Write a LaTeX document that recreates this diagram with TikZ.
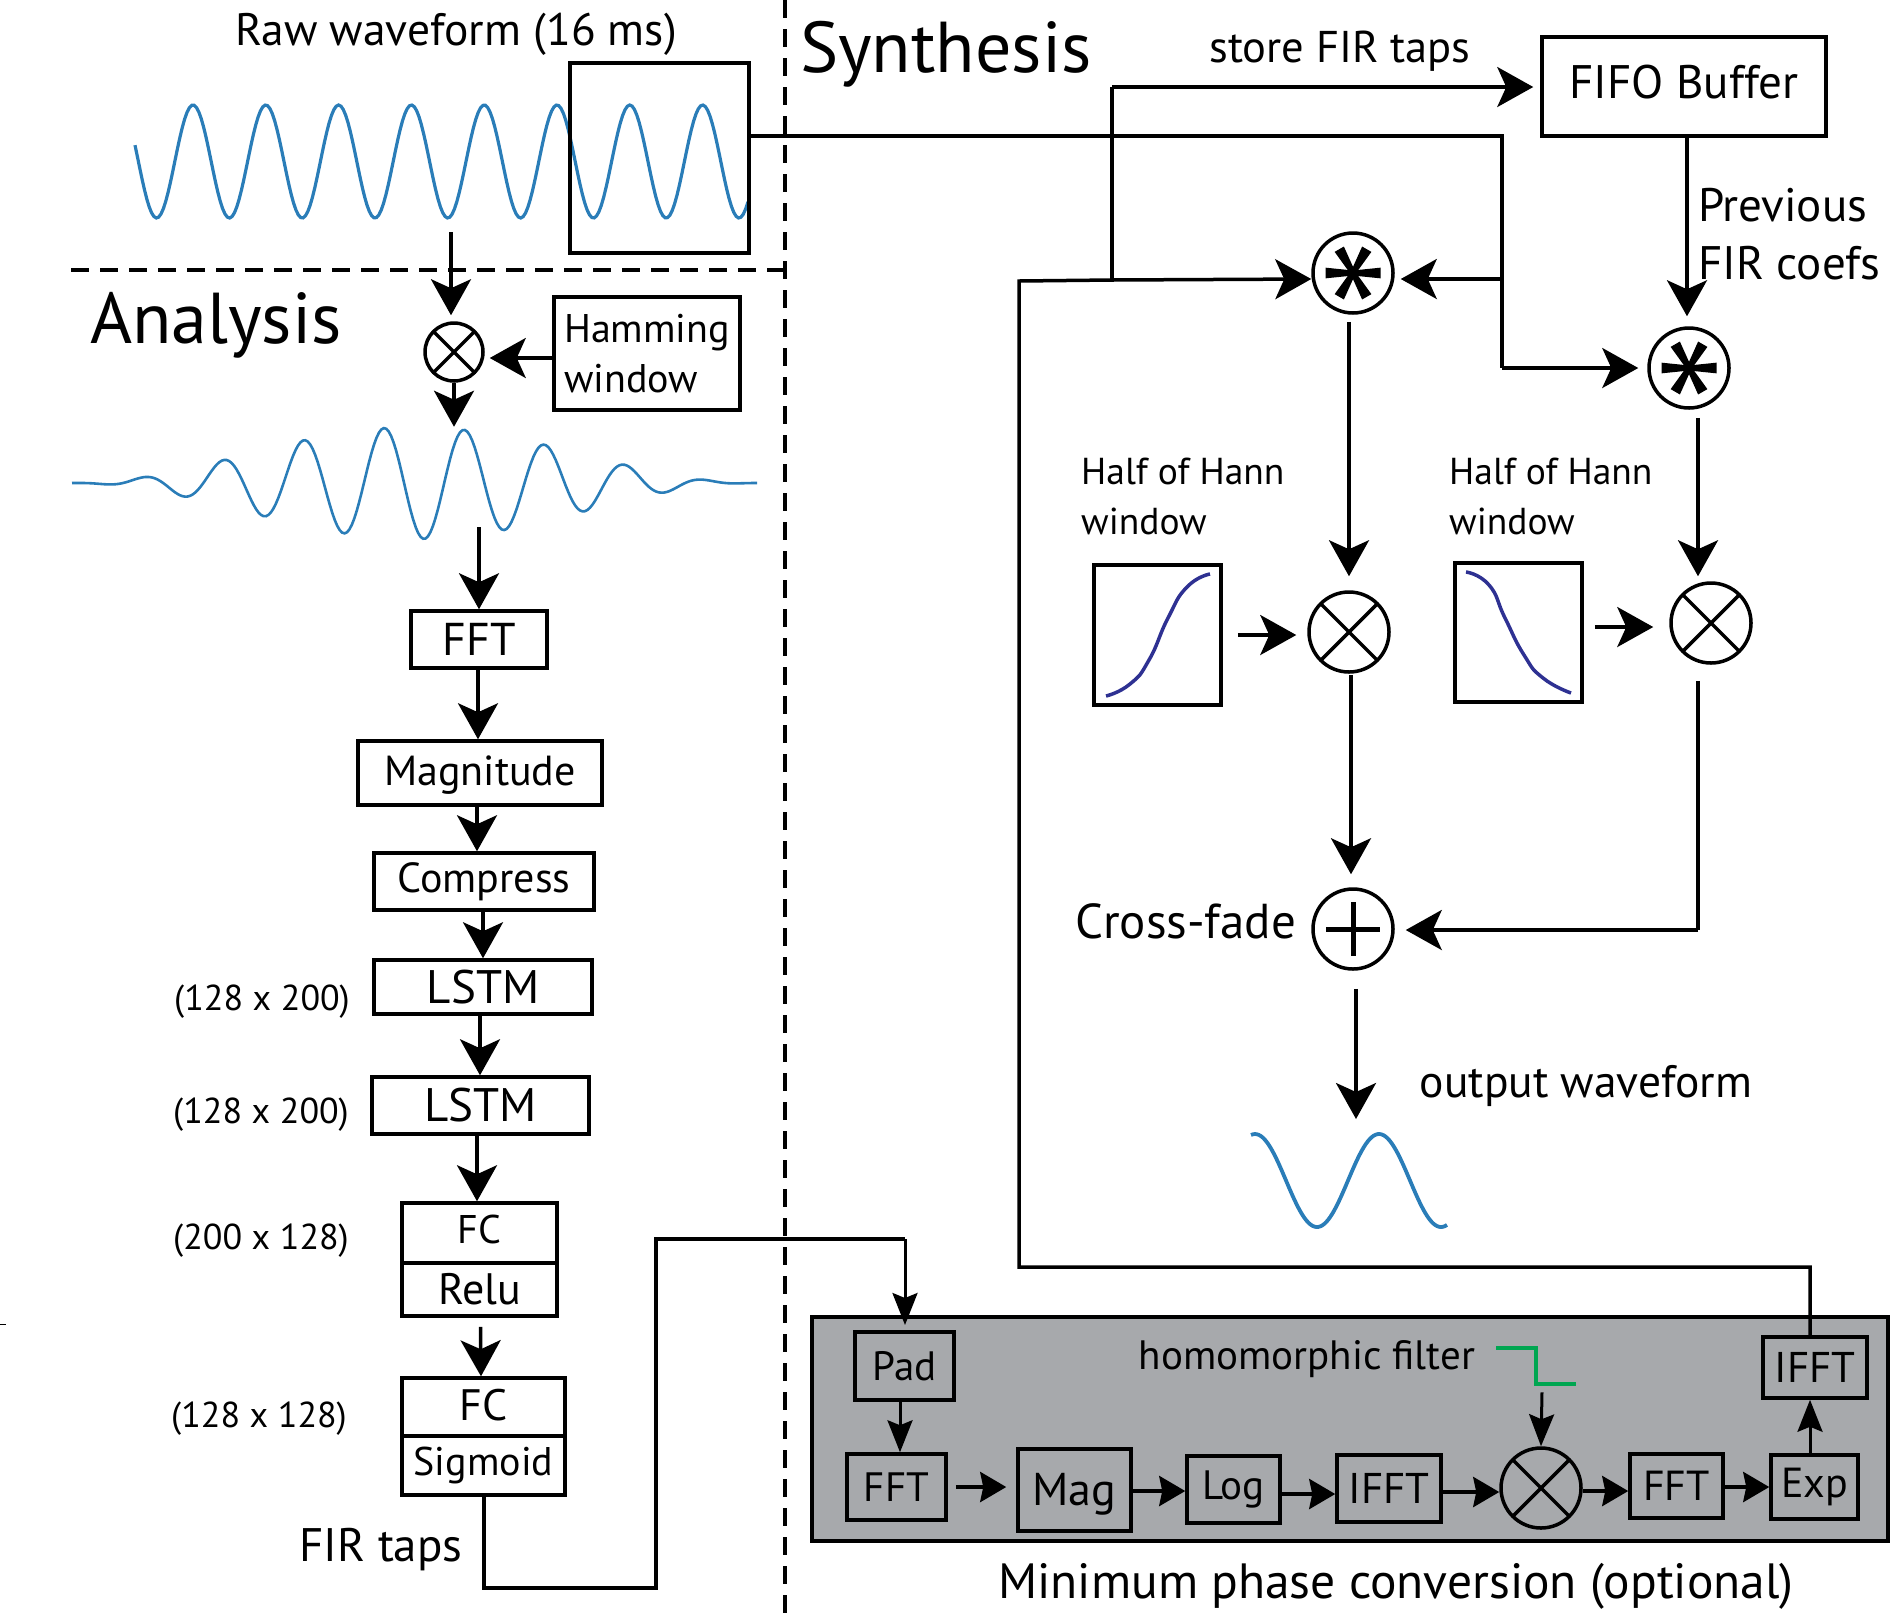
\documentclass[tikz,border=0pt]{standalone}
\usepackage{fontspec}
\setmainfont{PT Sans}
\usepackage{tikz}
\usetikzlibrary{arrows.meta,positioning,calc}
\newcommand{\fsz}[2]{\fontsize{#1}{#2}\selectfont}
\definecolor{wave}{HTML}{2A7DB8}
\definecolor{hann}{HTML}{2E3192}
\definecolor{stepc}{HTML}{00A651}
\definecolor{panelgray}{HTML}{A7A9AC}

\begin{document}
\begin{tikzpicture}[
  x=1pt, y=-1pt,
  every node/.style={inner sep=0pt},
  box/.style={draw=black, line width=3.5pt, inner sep=0pt, align=center, font=\fsz{44}{50}},
  win/.style={draw=black, line width=3.5pt},
  mult/.style={circle, draw=black, line width=3.5pt, minimum size=#1, path picture={
      \draw[line width=3.5pt] (path picture bounding box.north west) -- (path picture bounding box.south east);
      \draw[line width=3.5pt] (path picture bounding box.north east) -- (path picture bounding box.south west);}},
  addn/.style={circle, draw=black, line width=3.5pt, minimum size=80pt, path picture={
      \draw[line width=5pt] ($(path picture bounding box.center)+(-27,0)$) -- ($(path picture bounding box.center)+(27,0)$);
      \draw[line width=5pt] ($(path picture bounding box.center)+(0,-27)$) -- ($(path picture bounding box.center)+(0,27)$);}},
  conv/.style={circle, draw=black, line width=3.5pt, minimum size=80pt, path picture={
      \fill (path picture bounding box.center) circle[radius=6pt];
      \foreach \ang in {0,60,120,180,240,300}
        \fill[shift={(path picture bounding box.center)}] (\ang-45:4pt) -- (\ang-11:28pt) -- (\ang+11:28pt) -- (\ang+45:4pt) -- cycle;}},
  ar/.style={-{Stealth[length=36pt, width=40pt, inset=9pt]}, line width=3.5pt},
  arsm/.style={-{Stealth[length=32pt, width=25pt, inset=5pt]}, line width=3pt},
  arrow/.style={-{Stealth[length=26pt, width=30pt, inset=3pt]}, line width=4pt},
  ln/.style={line width=3.5pt},
  wv/.style={wave, line width=3.2pt},
  lab/.style={font=\fsz{44}{50}, align=left},
  dim/.style={font=\fsz{36}{44}},
  title/.style={font=\fsz{72}{80}},
  sep/.style={line width=3.5pt, dash pattern=on 18pt off 11pt},
]
\useasboundingbox (0,0) rectangle (1892,1618);

% =============================================================== section lines
\coordinate (vtop) at (785,0);
\coordinate (vbot) at (785,1618);
\coordinate (hleft) at (71,270);
\draw[sep] (vtop) -- (vbot);
\draw[sep] (hleft) -- (hleft -| vtop);
\coordinate (tick) at (0,1324);
\draw[line width=1pt] (tick) -- ++(6,0);

% =============================================================== waveforms
\draw[wv, domain=135:748, samples=260] plot (\x, {161.5-56.5*cos((\x-193)/72.8*360)});
\draw[wv, line width=2.6pt, domain=72:757, samples=280]
  plot (\x, {483-56*cos((\x-414.5)/342.5*90)^2*cos((\x-384)/80.3*360)});
\draw[wv, line width=3.8pt, domain=1251:1447, samples=100] plot (\x, {1180.5-46.5*cos((\x-1255)/124*360)});

% =============================================================== analysis
\node[win, minimum width=179pt, minimum height=190pt] (rawbox) at (659.5,158) {};
\node[font=\fsz{45.5}{50}] (rawlab) at (456,34) {Raw waveform (16 ms)};
\node[title, anchor=west] (analysis) at (90,325) {Analysis};

\node[mult=58pt] (hmult) at (454,352) {};
\node[box, font=\fsz{40}{50}, minimum width=186pt, minimum height=113pt, align=left] (hamm) at (647,353.5)
  {Hamming\\window};

\node[box, font=\fsz{46}{50}, minimum width=136pt, minimum height=57pt] (fft) at (479,639.5) {FFT};
\node[box, font=\fsz{42}{50}, minimum width=244pt, minimum height=64pt, text depth=4pt] (mag) at (480,773) {Magnitude};
\node[box, font=\fsz{42}{50}, minimum width=220pt, minimum height=57pt] (comp) at (484,881.5) {Compress};
\node[box, font=\fsz{47}{50}, minimum width=218pt, minimum height=54pt] (lstma) at (483,987) {LSTM};
\node[box, font=\fsz{47}{50}, minimum width=217pt, minimum height=57pt] (lstmb) at (480.5,1105.5) {LSTM};
\node[box, font=\fsz{40}{50}, minimum width=155pt, minimum height=60pt, text depth=7pt] (fca) at (479.5,1233) {FC};
\node[box, minimum width=155pt, minimum height=53pt] (relu) at (479.5,1289.5) {Relu};
\node[box, font=\fsz{44}{50}, minimum width=163pt, minimum height=58pt, text depth=5pt] (fcb) at (483.5,1407) {FC};
\node[box, font=\fsz{40}{50}, minimum width=163pt, minimum height=59pt] (sigm) at (483.5,1465.5) {Sigmoid};

\node[dim] (dima) at (262,1002) {(128 x 200)};
\node[dim] (dimb) at (261,1115) {(128 x 200)};
\node[dim] (dimc) at (261,1241) {(200 x 128)};
\node[dim] (dimd) at (259,1419) {(128 x 128)};
\node[lab, font=\fsz{47}{50}] (firlab) at (381,1550) {FIR taps};

\coordinate (rawout) at (451,232);
\coordinate (wvout) at (479,527);
\draw[ar] (rawout) -- ($(hmult.north)+(-3,-6)$);
\draw[ar] (hamm.west |- 0,358) -- ($(hmult.east)+(5,6)$);
\draw[ar] (hmult.south) -- ++(0,44);
\draw[ar] (wvout) -- (wvout |- fft.north);

\foreach \a/\b/\x in {fft/mag/478, mag/comp/477, comp/lstma/483, lstma/lstmb/480, lstmb/fca/477}
  \draw[ar] (\x,0 |- \a.south) -- (\x,0 |- \b.north);
\draw[ar] ($(relu.south)+(1,9)$) -- (481,0 |- fcb.north);

% =============================================================== synthesis
\node[title, anchor=west] (synth) at (800,54) {Synthesis};
\node[lab, font=\fsz{44.5}{50}] (storelab) at (1340,51) {store FIR taps};
\node[box, font=\fsz{47}{50}, minimum width=284pt, minimum height=99pt, text depth=9pt] (fifo) at (1684,86.5) {FIFO Buffer};
\node[lab, font=\fsz{47}{50}, anchor=west] (prev) at (1698,234.5) {Previous\\[8pt]FIR coefs};

\node[conv] (conva) at (1353,273) {};
\node[conv] (convb) at (1689,368) {};
\node[mult=80pt] (multa) at (1349,632) {};
\node[mult=80pt] (multb) at (1711,623) {};
\node[addn] (fade) at (1353,929) {};

\node[lab, font=\fsz{37.5}{50}, anchor=west] (hanna) at (1081,496) {Half of Hann\\window};
\node[lab, font=\fsz{37.5}{50}, anchor=west] (hannb) at (1449,496) {Half of Hann\\window};
\node[win, minimum width=127pt, minimum height=140pt] (wina) at (1157.5,635) {};
\node[win, minimum width=127pt, minimum height=139pt] (winb) at (1518.5,632.5) {};
\draw[hann, line width=3.5pt] plot[smooth, tension=0.9] coordinates {(1106,696) (1130,684) (1149,660) (1168,618) (1187,587) (1210,574)};
\draw[hann, line width=3.5pt] plot[smooth, tension=0.9] coordinates {(1466,572) (1489,585) (1505,618) (1524,655) (1543,678) (1571,693)};

\node[lab, font=\fsz{49}{50}] (fadelab) at (1186,921) {Cross-fade};
\node[lab, font=\fsz{45.5}{50}] (outlab) at (1586,1086) {output waveform};

% --- taps into the FIFO and the two convolutions ---
\coordinate (tapup) at (1112,280);
\coordinate (tapin) at (1112,87);
\coordinate (loopa) at (1019,281);
\coordinate (loopb) at (1019,1267);
\coordinate (loopc) at (1810,1267);
\coordinate (mainr) at (1502,136);
\coordinate (mainm) at (1502,279);
\coordinate (mainb) at (1502,368);
\coordinate (fadecorner) at (1698,930);
\coordinate (outwave) at (1356,1119);
\draw[ln] (tapup) -- (tapin);
\draw[ar] (tapin) -- ($(fifo.west |- tapin)+(-7,0)$);
\draw[ln] (rawbox.east |- mainr) -- (mainr) -- (mainb);
\draw[ar] (mainb) -- ($(convb.west)+(-9,0)$);
\draw[ar] (mainm) -- ($(conva.east)+(6,6)$);

\draw[ar] (1687,0 |- fifo.south) -- ($(convb.north)+(-2,-10)$);
\draw[ar] ($(conva.south)+(-4,7)$) -- ($(multa.north)+(0,-14)$);
\draw[ar] ($(convb.south)+(9,8)$) -- ($(multb.north)+(-13,-5)$);
\draw[ar] ($(wina.east)+(15,0)$) -- ($(multa.west)+(-11,3)$);
\draw[ar] ($(winb.east)+(11,-5.5)$) -- ($(multb.west)+(-16,4)$);
\draw[ar] ($(multa.south)+(2,1)$) -- ($(fade.north)+(-2,-13)$);
\draw[ln] ($(multb.south)+(-13,16)$) -- (fadecorner);
\draw[ar] (fadecorner) -- ($(fade.east)+(11,1)$);
\draw[ar] ($(fade.south)+(3,18)$) -- (outwave);

% =============================================================== minimum phase block
\node[draw=black, fill=panelgray, line width=4pt, minimum width=1076pt, minimum height=224pt] (panel) at (1350,1429) {};

\node[box, minimum width=99pt, minimum height=68pt, font=\fsz{41}{50}] (pad) at (904.5,1366) {Pad};
\node[box, minimum width=99pt, minimum height=66pt, font=\fsz{41}{50}, text depth=0pt] (pfft) at (896.5,1487) {FFT};
\node[box, minimum width=113pt, minimum height=82pt, font=\fsz{46}{50}, text depth=1pt] (pmag) at (1074.5,1490) {Mag};
\node[box, minimum width=93pt, minimum height=67pt, font=\fsz{41}{50}] (plog) at (1233.5,1489.5) {Log};
\node[box, minimum width=104pt, minimum height=67pt, font=\fsz{43}{50}] (pifft) at (1389,1488.5) {IFFT};
\node[mult=80pt] (pmult) at (1541,1488) {};
\node[box, minimum width=93pt, minimum height=64pt, font=\fsz{42}{50}] (pffb) at (1676.5,1486) {FFT};
\node[box, minimum width=87pt, minimum height=64pt, font=\fsz{42}{50}] (pexp) at (1814.5,1487) {Exp};
\node[box, minimum width=104pt, minimum height=61pt, font=\fsz{43}{50}] (pout) at (1815,1367.5) {IFFT};

\node[font=\fsz{41}{50}] (homlab) at (1307,1359) {homomorphic filter};
\coordinate (stepa) at (1496,1348);
\coordinate (stepb) at (1536,1348);
\coordinate (stepcc) at (1536,1384);
\coordinate (stepd) at (1576,1384);
\draw[stepc, line width=3.5pt] (stepa) -- (stepb) -- (stepcc) -- (stepd);
\node[font=\fsz{49.5}{50}] (minlab) at (1396,1586) {Minimum phase conversion (optional)};

\draw[arsm] (900,0 |- pad.south) -- (900,0 |- pfft.north);
\draw[arsm] (1810,0 |- pexp.north) -- (1810,0 |- pout.south);
\draw[arsm] ($(pmult.north)+(1,-54)$) -- (pmult.north);
\draw[arrow] ($(pfft.east |- 0,1487)+(8,0)$) -- ($(pmag.west |- 0,1487)+(-10,0)$);
\foreach \a/\b/\y in {pmag/plog/1491, plog/pifft/1494, pifft/pmult/1492, pmult/pffb/1491, pffb/pexp/1487}
  \draw[arrow] (\a.east |- 0,\y) -- (\b.west |- 0,\y);

% --- wires through the sections ---
\coordinate (firdown) at (484,1588);
\coordinate (firright) at (656,1588);
\coordinate (firup) at (656,1239);
\coordinate (firtop) at (905,1239);
\coordinate (padin) at (905,1325);
\draw[ln] (sigm.south -| firdown) -- (firdown) -- (firright) -- (firup) -- (firtop);
\draw[arsm] (firtop) -- (padin);
\draw[ln] (pout.north -| loopc) -- (loopc) -- (loopb) -- (loopa) -- (tapup);
\draw[ar] (tapup) -- ($(conva.west)+(0,6)$);
\end{tikzpicture}
\end{document}
